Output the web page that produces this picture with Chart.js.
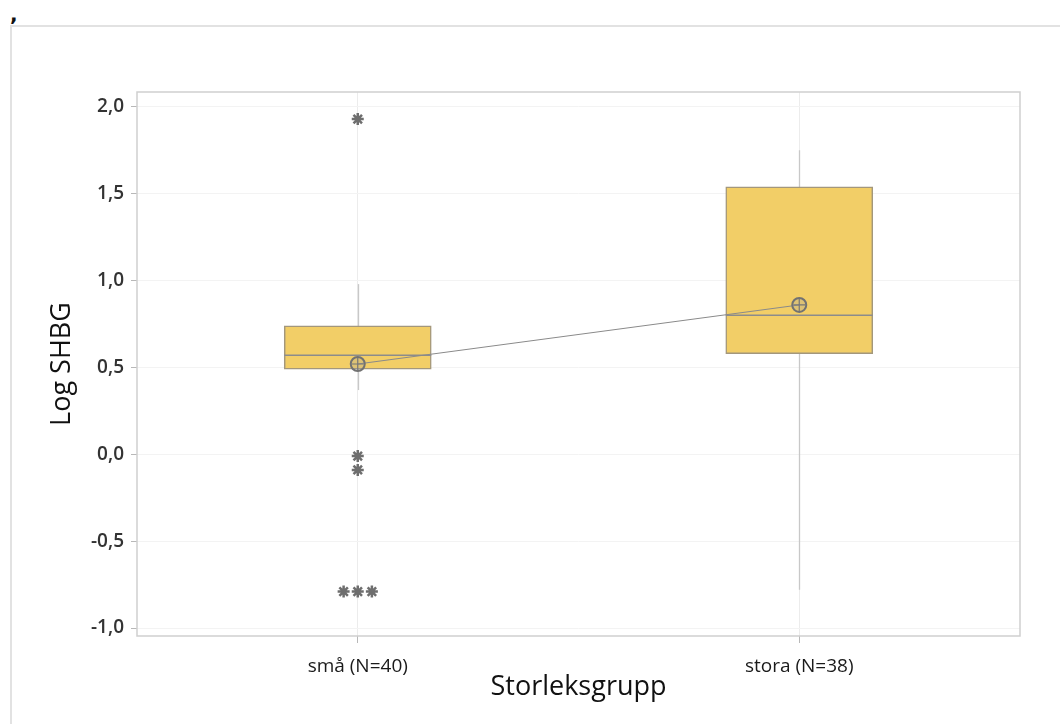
<!DOCTYPE html>
<html lang="sv">
<head>
<meta charset="utf-8">
<title>Log SHBG per storleksgrupp</title>
<script src="https://cdn.jsdelivr.net/npm/chart.js@4/dist/chart.umd.min.js"></script>
<style>
  html, body { margin: 0; padding: 0; background: #fff; }
  body { width: 1060px; height: 724px; position: relative; overflow: hidden; font-family: "Open Sans", sans-serif; }
  .mark { position: absolute; left: 10px; top: 2px; font-size: 20px; font-weight: bold; color: #111; font-family: "DejaVu Sans", sans-serif; }
  .frame { position: absolute; left: 10px; top: 25px; width: 1060px; height: 720px;
           border-top: 2px solid #e2e2e2; border-left: 2px solid #e2e2e2; box-sizing: border-box; }
  #chart { position: absolute; left: 0; top: 0; }
</style>
</head>
<body>
<div class="mark">,</div>
<div class="frame"></div>
<canvas id="chart" width="1060" height="724"></canvas>
<script>
// Groups on the x axis
const groups = ['små (N=40)', 'stora (N=38)'];

// Box statistics per group
const q1Values       = [0.49, 0.58];
const q3Values       = [0.74, 1.54];
const medianValues   = [0.57, 0.80];
const meanValues     = [0.52, 0.86];
const whiskerLow     = [0.37, -0.78];
const whiskerHigh    = [0.98, 1.75];

// Outliers per group
const outliersSma    = [1.93, -0.01, -0.09, -0.79, -0.79, -0.79];
const outliersStora  = [];

// Y axis tick values
const yTickValues = [-1.0, -0.5, 0.0, 0.5, 1.0, 1.5, 2.0];

const groupPos = groups.map((g, i) => i + 0.5);
const JITTER = 0.032;

// Spread identical outliers side by side around the group centre
function outlierPoints(values, gi) {
  const counts = {};
  values.forEach(v => { counts[v] = (counts[v] || 0) + 1; });
  const seen = {};
  return values.map(v => {
    const n = counts[v];
    const k = seen[v] = (seen[v] || 0) + 1;
    const off = (k - 1 - (n - 1) / 2) * JITTER;
    return { x: groupPos[gi] + off, y: v };
  });
}

const outlierData = outlierPoints(outliersSma, 0).concat(outlierPoints(outliersStora, 1));
const meanData = meanValues.map((m, i) => ({ x: groupPos[i], y: m }));
const boxData = groups.map((g, i) => ({ x: groupPos[i], y: [q1Values[i], q3Values[i]] }));

// Whiskers, medians and the plot frame, drawn from the chart scales
const boxExtras = {
  id: 'boxExtras',
  beforeDatasetsDraw(chart) {
    const { ctx, scales: { x, y } } = chart;
    ctx.save();
    ctx.strokeStyle = '#c8c8c8';
    ctx.lineWidth = 1.3;
    groups.forEach((g, i) => {
      const px = Math.round(x.getPixelForValue(groupPos[i])) + 0.5;
      ctx.beginPath();
      ctx.moveTo(px, y.getPixelForValue(whiskerLow[i]));
      ctx.lineTo(px, y.getPixelForValue(whiskerHigh[i]));
      ctx.stroke();
    });
    ctx.restore();
  },
  afterDatasetDraw(chart, args) {
    if (chart.data.datasets[args.index].id !== 'box') return;
    const { ctx, scales: { y } } = chart;
    const meta = chart.getDatasetMeta(args.index);
    ctx.save();
    ctx.strokeStyle = '#8c8c8c';
    ctx.lineWidth = 1.5;
    meta.data.forEach((bar, i) => {
      const half = bar.width / 2;
      const py = y.getPixelForValue(medianValues[i]);
      ctx.beginPath();
      ctx.moveTo(bar.x - half, py);
      ctx.lineTo(bar.x + half, py);
      ctx.stroke();
    });
    ctx.restore();
  },
  afterDraw(chart) {
    const { ctx, chartArea: a } = chart;
    ctx.save();
    ctx.strokeStyle = '#cfcfcf';
    ctx.lineWidth = 1.5;
    ctx.strokeRect(a.left, a.top, a.right - a.left, a.bottom - a.top);
    ctx.restore();
  }
};

const fmt = v => v.toFixed(1).replace('.', ',');

new Chart(document.getElementById('chart'), {
  type: 'bar',
  data: {
    datasets: [
      {
        type: 'scatter',
        data: outlierData,
        pointStyle: 'star',
        radius: 6,
        borderColor: '#6e6e6e',
        backgroundColor: '#6e6e6e',
        borderWidth: 2.5,
        order: 0
      },
      {
        type: 'scatter',
        data: meanData,
        pointStyle: 'cross',
        radius: 6,
        borderColor: '#777',
        borderWidth: 1.2,
        order: 1
      },
      {
        type: 'line',
        data: meanData,
        borderColor: '#8a8a8a',
        borderWidth: 1,
        pointStyle: 'circle',
        radius: 7,
        pointBorderWidth: 2,
        pointBorderColor: '#727272',
        pointBackgroundColor: 'rgba(160,160,160,0.25)',
        fill: false,
        order: 2
      },
      {
        id: 'box',
        type: 'bar',
        data: boxData,
        backgroundColor: '#f2ce67',
        borderColor: '#a3977c',
        borderWidth: 1.5,
        borderSkipped: false,
        barThickness: 147,
        order: 10
      }
    ]
  },
  options: {
    responsive: false,
    animation: false,
    events: [],
    layout: { padding: { top: 92, right: 40, left: 0, bottom: 0 } },
    plugins: { legend: { display: false }, tooltip: { enabled: false } },
    scales: {
      x: {
        type: 'linear',
        min: 0,
        max: groups.length,
        offset: false,
        afterBuildTicks(scale) { scale.ticks = groupPos.map(v => ({ value: v })); },
        afterFit(scale) { scale.height = 724 - 636; },
        ticks: {
          callback: (v) => groups[Math.floor(v)],
          color: '#1a1a1a',
          font: { family: 'Open Sans', size: 19 },
          padding: 12,
          maxRotation: 0
        },
        grid: { offset: false, color: '#ececec', tickColor: '#b8b8b8', tickLength: 7, lineWidth: 1 },
        border: { display: false },
        title: {
          display: true,
          text: 'Storleksgrupp',
          color: '#111',
          font: { family: 'Open Sans', size: 27 },
          padding: { top: 20, bottom: 20 }
        }
      },
      y: {
        type: 'linear',
        min: -1.046,
        max: 2.086,
        afterBuildTicks(scale) { scale.ticks = yTickValues.map(v => ({ value: v })); },
        afterFit(scale) { scale.width = 137; },
        ticks: {
          callback: (v) => fmt(v),
          color: '#333',
          font: { family: 'Open Sans', size: 19, weight: '600' },
          padding: 7
        },
        grid: { color: '#f3f3f3', tickColor: '#b8b8b8', tickLength: 6, lineWidth: 1 },
        border: { display: false },
        title: {
          display: true,
          text: 'Log SHBG',
          color: '#111',
          font: { family: 'Open Sans', size: 27 },
          padding: { top: 46, bottom: 46 }
        }
      }
    }
  },
  plugins: [boxExtras]
});
</script>
</body>
</html>
